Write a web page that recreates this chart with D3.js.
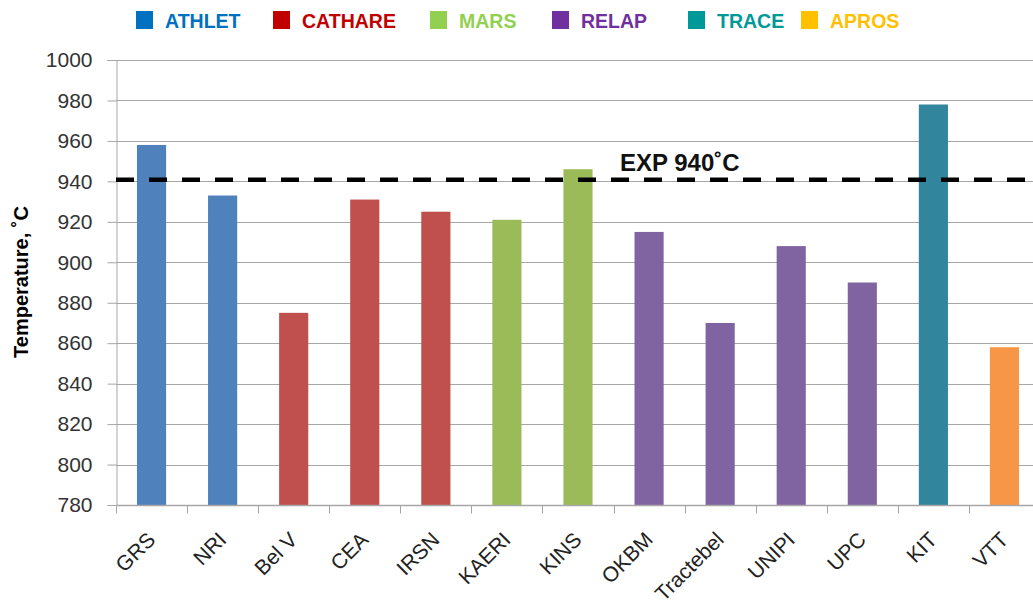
<!DOCTYPE html>
<html><head><meta charset="utf-8">
<script src="https://cdn.jsdelivr.net/npm/d3@7"></script>
<style>body{margin:0;background:#fff}svg{display:block}</style>
</head><body>
<script>
const categories = ["GRS","NRI","Bel V","CEA","IRSN","KAERI","KINS","OKBM","Tractebel","UNIPI","UPC","KIT","VTT"];
const codes = ["ATHLET","ATHLET","CATHARE","CATHARE","CATHARE","MARS","MARS","RELAP","RELAP","RELAP","RELAP","TRACE","APROS"];
const values = [958, 933, 875, 931, 925, 921, 946, 915, 870, 908, 890, 978, 858];
const legendNames = ["ATHLET","CATHARE","MARS","RELAP","TRACE","APROS"];
const barColors = {ATHLET:"#4F81BD",CATHARE:"#C0504D",MARS:"#9BBB59",RELAP:"#8064A2",TRACE:"#31859C",APROS:"#F79646"};
const legendColors = {ATHLET:"#0070C0",CATHARE:"#C00000",MARS:"#92D050",RELAP:"#7030A0",TRACE:"#009999",APROS:"#FFC000"};
const yTicks = [780,800,820,840,860,880,900,920,940,960,980,1000];
const expValue = 940;
const expLabel = "EXP 940˚C";
const yTitle = "Temperature, ˚C";

const W=1033,H=604;
const m={left:116,right:1040,top:60,bottom:505};
const svg=d3.select("body").append("svg").attr("width",W).attr("height",H);
const font="'Liberation Sans', Arial, sans-serif";

const x=d3.scaleBand().domain(categories).range([m.left,m.right]).paddingInner(0.59).paddingOuter(0.295);
const xe=d3.scaleBand().domain(categories).range([m.left,m.right]);
const y=d3.scaleLinear().domain([780,1000]).range([m.bottom,m.top]);

// gridlines
svg.append("g").selectAll("line").data(yTicks.filter(d=>d>780)).join("line")
  .attr("x1",m.left).attr("x2",W).attr("y1",d=>Math.round(y(d))+0.5).attr("y2",d=>Math.round(y(d))+0.5)
  .attr("stroke","#a6a6a6").attr("stroke-width",1);

// bars
svg.append("g").selectAll("rect").data(categories).join("rect")
  .attr("x",(d)=>x(d)).attr("width",x.bandwidth())
  .attr("y",(d,i)=>y(values[i])).attr("height",(d,i)=>m.bottom-y(values[i]))
  .attr("fill",(d,i)=>barColors[codes[i]]);

// y axis
const ya=svg.append("g").attr("transform",`translate(${m.left+0.5},0)`)
  .call(d3.axisLeft(y).tickValues(yTicks).tickSize(9).tickPadding(15).tickFormat(d3.format("d")));
ya.select(".domain").attr("stroke","#a6a6a6");
ya.selectAll(".tick line").attr("stroke","#a6a6a6");
ya.selectAll("text").attr("font-family",font).attr("font-size",21).attr("fill","#333");

// x axis
const xg=svg.append("g").attr("transform",`translate(0,${m.bottom+0.5})`);
xg.append("line").attr("x1",m.left).attr("x2",W).attr("stroke","#a6a6a6").attr("stroke-width",1.5);
const edges=categories.map(c=>xe(c));
xg.selectAll(".tk").data(edges).join("line").attr("class","tk")
  .attr("x1",d=>Math.round(d)+0.5).attr("x2",d=>Math.round(d)+0.5).attr("y1",0).attr("y2",8).attr("stroke","#a6a6a6");
svg.append("g").selectAll(".lbl").data(categories).join("text").attr("class","lbl")
  .attr("transform",d=>`translate(${x(d)+x.bandwidth()/2+5},541) rotate(-45)`)
  .attr("text-anchor","end")
  .attr("font-family",font).attr("font-size",21).attr("fill","#222").text(d=>d);

// exp line
svg.append("line").attr("x1",m.left).attr("x2",W).attr("y1",y(expValue)-1.5).attr("y2",y(expValue)-1.5)
  .attr("stroke","#000").attr("stroke-width",4.5).attr("stroke-dasharray","18,15");
svg.append("text").attr("x",620).attr("y",171).attr("font-family",font).attr("font-weight","bold")
  .attr("font-size",24).attr("fill","#111").text(expLabel);

// y title
svg.append("text").attr("transform",`translate(28,282) rotate(-90)`).attr("text-anchor","middle")
  .attr("font-family",font).attr("font-weight","bold").attr("font-size",20).attr("fill","#000").text(yTitle);

// legend
const legX=[136,273,430,552,688,801];
const lg=svg.append("g").selectAll("g").data(legendNames).join("g").attr("transform",(d,i)=>`translate(${legX[i]},11)`);
lg.append("rect").attr("width",17).attr("height",18).attr("fill",d=>legendColors[d]);
lg.append("text").attr("x",29).attr("y",17).attr("font-family",font).attr("font-weight","bold").attr("font-size",19.5)
  .attr("fill",d=>legendColors[d]).text(d=>d);
</script>
</body></html>
